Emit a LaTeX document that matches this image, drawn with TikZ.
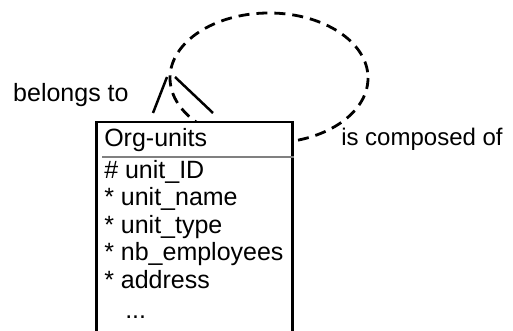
\documentclass[tikz,border=0pt]{standalone}
\usepackage{fontspec}
\setmainfont{Liberation Sans}
\begin{document}
\begin{tikzpicture}[x=0.5pt, y=-0.5pt, line width=1.25pt,
  every node/.style={font=\fontsize{12.5}{14}\selectfont, inner sep=0pt, anchor=base west},
  dashloop/.style={dash pattern=on 5.5pt off 3.5pt, line width=1.4pt},
  sepline/.style={draw=gray, line width=1pt}]
\useasboundingbox (0,0) rectangle (513,331);
\clip (0,0) rectangle (513,331);
% recursive relationship, hidden inside the box
\draw[dashloop] (269,78) ellipse [x radius=99, y radius=65];
% entity
\node[draw, fill=white, anchor=north west, minimum width=98pt, minimum height=120pt] (units) at (95,121) {};
\node (title) at (103,147) {Org-units};
\draw[sepline] (102,157) -- (units.east |- 0,157);
\foreach \n/\txt [count=\i from 0] in {id/{\# unit\_ID}, name/{* unit\_name}, type/{* unit\_type}, emp/{* nb\_employees}, addr/{* address}}
{
    \node (attr-\n) at (103,{178+\i*27.5}) {\txt};
}
\node (more) at (124,318) {...};
% crow's foot
\coordinate (apex-l) at (167,77);
\coordinate (apex-r) at (175,77);
\coordinate (toe-l) at (153,113);
\coordinate (toe-r) at (213,113);
\draw (toe-l) -- (apex-l);
\draw (apex-r) -- (toe-r);
% role names
\node (belongs) at (12,102) {belongs to};
\node[font=\fontsize{12}{14}\selectfont] (composed) at (340,146) {is composed of};
\end{tikzpicture}
\end{document}
